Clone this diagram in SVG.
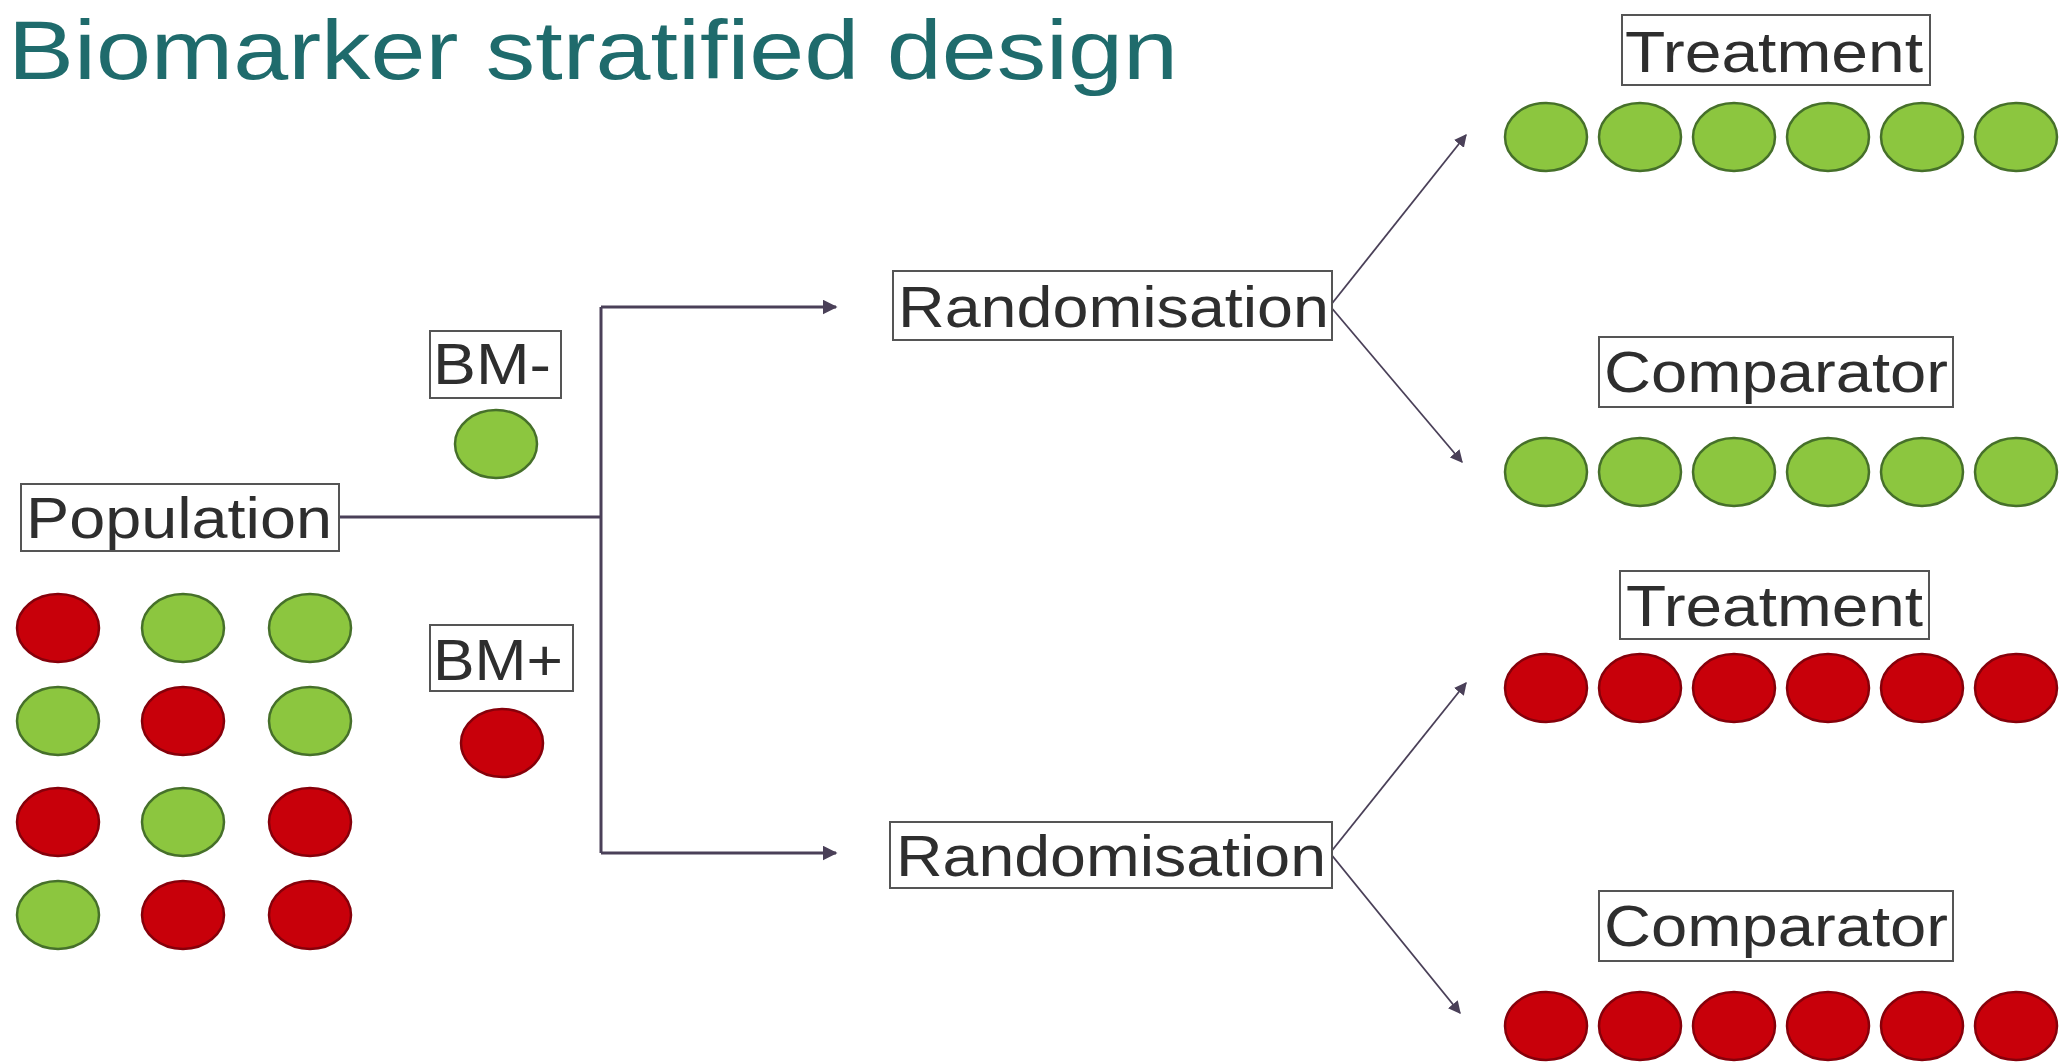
<svg xmlns="http://www.w3.org/2000/svg" width="2067" height="1064" viewBox="0 0 2067 1064">
  <defs>
    <style>
      .title { font-family: "Liberation Sans", Arial, sans-serif; font-size: 84px; fill: #1f6b6c; }
      .lbl { font-family: "Liberation Sans", Arial, sans-serif; font-size: 58px; fill: #2e2e2e; }
      .box { fill: #ffffff; stroke: #555555; stroke-width: 2; }
      .g { fill: #8cc63f; stroke: #46702a; stroke-width: 2.5; }
      .r { fill: #c8000a; stroke: #86000a; stroke-width: 2.5; }
      .conn { fill: none; stroke: #4a4058; stroke-width: 3; }
      .diag { fill: none; stroke: #4a4058; stroke-width: 1.8; }
    </style>
    <marker id="arrow" viewBox="0 0 10 10" refX="9" refY="5" markerWidth="5" markerHeight="5" markerUnits="strokeWidth" orient="auto">
      <path d="M0,0 L10,5 L0,10 z" fill="#4a4058"/>
    </marker>
    <marker id="arrowThin" viewBox="0 0 10 10" refX="9" refY="5" markerWidth="7" markerHeight="7" markerUnits="strokeWidth" orient="auto">
      <path d="M0,0 L10,5 L0,10 z" fill="#4a4058"/>
    </marker>
    <ellipse id="dot" cx="0" cy="0" rx="41" ry="34"/>
  </defs>

  <rect width="2067" height="1064" fill="#ffffff"/>

  <text class="title" x="8" y="79" textLength="1170" lengthAdjust="spacingAndGlyphs">Biomarker stratified design</text>

  <!-- connectors -->
  <g id="connectors">
    <path class="conn" d="M339,517 H601"/>
    <path class="conn" d="M601,307 V853"/>
    <path class="conn" d="M601,307 H836" marker-end="url(#arrow)"/>
    <path class="conn" d="M601,853 H836" marker-end="url(#arrow)"/>
    <path class="diag" d="M1330,306 L1466,135" marker-end="url(#arrowThin)"/>
    <path class="diag" d="M1330,306 L1462,462" marker-end="url(#arrowThin)"/>
    <path class="diag" d="M1330,853 L1466,683" marker-end="url(#arrowThin)"/>
    <path class="diag" d="M1330,853 L1460,1013" marker-end="url(#arrowThin)"/>
  </g>

  <!-- population -->
  <g id="population">
    <rect class="box" x="21" y="484" width="318" height="67"/>
    <text class="lbl" x="26" y="538" textLength="306" lengthAdjust="spacingAndGlyphs">Population</text>
  </g>
  <g id="population-grid">
    <use href="#dot" class="r" x="58" y="628"/>
    <use href="#dot" class="g" x="183" y="628"/>
    <use href="#dot" class="g" x="310" y="628"/>
    <use href="#dot" class="g" x="58" y="721"/>
    <use href="#dot" class="r" x="183" y="721"/>
    <use href="#dot" class="g" x="310" y="721"/>
    <use href="#dot" class="r" x="58" y="822"/>
    <use href="#dot" class="g" x="183" y="822"/>
    <use href="#dot" class="r" x="310" y="822"/>
    <use href="#dot" class="g" x="58" y="915"/>
    <use href="#dot" class="r" x="183" y="915"/>
    <use href="#dot" class="r" x="310" y="915"/>
  </g>

  <!-- biomarker groups -->
  <g id="bm-neg">
    <rect class="box" x="430" y="331" width="131" height="67"/>
    <text class="lbl" x="433" y="384" textLength="118" lengthAdjust="spacingAndGlyphs">BM-</text>
    <use href="#dot" class="g" x="496" y="444"/>
  </g>
  <g id="bm-pos">
    <rect class="box" x="430" y="625" width="143" height="66"/>
    <text class="lbl" x="433" y="680" textLength="130" lengthAdjust="spacingAndGlyphs">BM+</text>
    <use href="#dot" class="r" x="502" y="743"/>
  </g>

  <!-- randomisation steps -->
  <g id="rand-neg">
    <rect class="box" x="893" y="271" width="439" height="69"/>
    <text class="lbl" x="898" y="327" textLength="431" lengthAdjust="spacingAndGlyphs">Randomisation</text>
  </g>
  <g id="rand-pos">
    <rect class="box" x="890" y="822" width="442" height="66"/>
    <text class="lbl" x="896" y="876" textLength="430" lengthAdjust="spacingAndGlyphs">Randomisation</text>
  </g>

  <!-- arms: biomarker negative -->
  <g id="treat-neg">
    <rect class="box" x="1622" y="15" width="308" height="70"/>
    <text class="lbl" x="1625" y="72" textLength="298" lengthAdjust="spacingAndGlyphs">Treatment</text>
    <use href="#dot" class="g" x="1546" y="137"/>
    <use href="#dot" class="g" x="1640" y="137"/>
    <use href="#dot" class="g" x="1734" y="137"/>
    <use href="#dot" class="g" x="1828" y="137"/>
    <use href="#dot" class="g" x="1922" y="137"/>
    <use href="#dot" class="g" x="2016" y="137"/>
  </g>
  <g id="comp-neg">
    <rect class="box" x="1599" y="337" width="354" height="70"/>
    <text class="lbl" x="1604" y="392" textLength="344" lengthAdjust="spacingAndGlyphs">Comparator</text>
    <use href="#dot" class="g" x="1546" y="472"/>
    <use href="#dot" class="g" x="1640" y="472"/>
    <use href="#dot" class="g" x="1734" y="472"/>
    <use href="#dot" class="g" x="1828" y="472"/>
    <use href="#dot" class="g" x="1922" y="472"/>
    <use href="#dot" class="g" x="2016" y="472"/>
  </g>

  <!-- arms: biomarker positive -->
  <g id="treat-pos">
    <rect class="box" x="1620" y="571" width="309" height="68"/>
    <text class="lbl" x="1626" y="626" textLength="297" lengthAdjust="spacingAndGlyphs">Treatment</text>
    <use href="#dot" class="r" x="1546" y="688"/>
    <use href="#dot" class="r" x="1640" y="688"/>
    <use href="#dot" class="r" x="1734" y="688"/>
    <use href="#dot" class="r" x="1828" y="688"/>
    <use href="#dot" class="r" x="1922" y="688"/>
    <use href="#dot" class="r" x="2016" y="688"/>
  </g>
  <g id="comp-pos">
    <rect class="box" x="1599" y="891" width="354" height="70"/>
    <text class="lbl" x="1604" y="946" textLength="344" lengthAdjust="spacingAndGlyphs">Comparator</text>
    <use href="#dot" class="r" x="1546" y="1026"/>
    <use href="#dot" class="r" x="1640" y="1026"/>
    <use href="#dot" class="r" x="1734" y="1026"/>
    <use href="#dot" class="r" x="1828" y="1026"/>
    <use href="#dot" class="r" x="1922" y="1026"/>
    <use href="#dot" class="r" x="2016" y="1026"/>
  </g>
</svg>
